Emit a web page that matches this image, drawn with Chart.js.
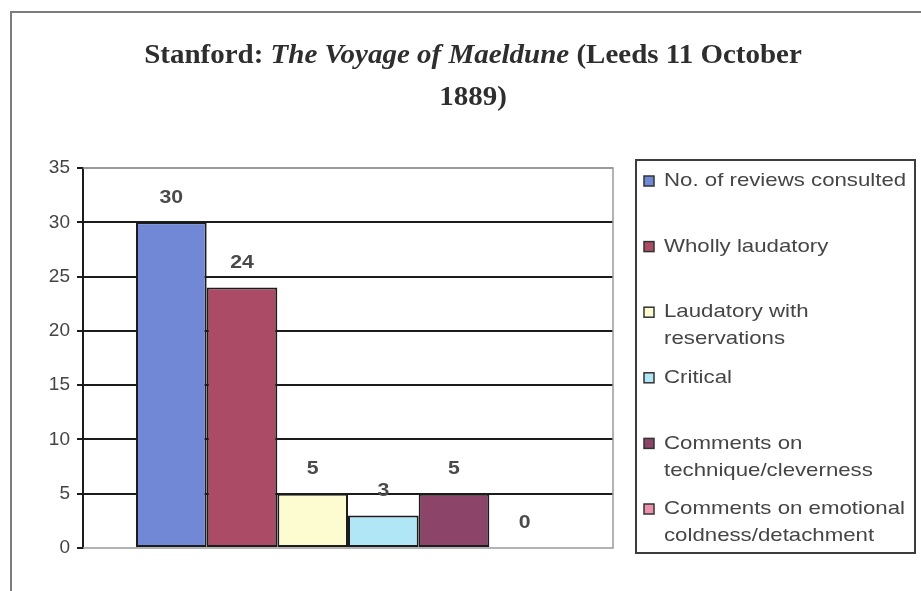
<!DOCTYPE html>
<html>
<head>
<meta charset="utf-8">
<script src="https://cdn.jsdelivr.net/npm/chart.js@4.4.1/dist/chart.umd.min.js"></script>
<style>
  html, body { margin: 0; padding: 0; background: #fff; }
  #wrap { position: relative; width: 921px; height: 591px; overflow: hidden; }
  #frame {
    position: absolute; left: 10px; top: 11px; width: 960px; height: 640px;
    border-top: 2px solid #7c7c7c; border-left: 2px solid #7c7c7c;
  }
  #chart { position: absolute; left: 0; top: 0; }
</style>
</head>
<body>
<div id="wrap">
  <div id="frame"></div>
  <canvas id="chart" width="921" height="591"></canvas>
</div>
<script>
// data
var categories = [""];
var seriesNames = [
  "No. of reviews consulted",
  "Wholly laudatory",
  "Laudatory with reservations",
  "Critical",
  "Comments on technique/cleverness",
  "Comments on emotional coldness/detachment"
];
var seriesValues = [30, 24, 5, 3, 5, 0];
var legendLines = [
  ["No. of reviews consulted"],
  ["Wholly laudatory"],
  ["Laudatory with", "reservations"],
  ["Critical"],
  ["Comments on", "technique/cleverness"],
  ["Comments on emotional", "coldness/detachment"]
];
var yTicks = [0, 5, 10, 15, 20, 25, 30, 35];
var titleLines = [
  [["Stanford: ", false], ["The Voyage of Maeldune", true], [" (Leeds 11 October", false]],
  [["1889)", false]]
];

var barColors = ["#7188d6", "#ac4b65", "#fdfcd0", "#b1e6f7", "#8c4568", "#ee8fae"];

var SANS = "'Liberation Sans', Arial, sans-serif";
var SERIF = "'Liberation Serif', 'Times New Roman', serif";

// grey frame round the plot (top/right/bottom), drawn over the grid, under the bars
var plotFrame = {
  id: "plotFrame",
  beforeDatasetsDraw: function (chart) {
    var a = chart.chartArea, ctx = chart.ctx;
    ctx.save();
    ctx.strokeStyle = "#9a9a9a";
    ctx.lineWidth = 1.5;
    ctx.beginPath();
    ctx.moveTo(a.left, a.top);
    ctx.lineTo(a.right, a.top);
    ctx.lineTo(a.right, a.bottom);
    ctx.lineTo(a.left, a.bottom);
    ctx.stroke();
    ctx.restore();
  }
};

// value labels above each bar
var valueLabels = {
  id: "valueLabels",
  afterDatasetsDraw: function (chart) {
    var ctx = chart.ctx;
    ctx.save();
    ctx.font = "bold 19px " + SANS;
    ctx.fillStyle = "#4a4a4a";
    ctx.textAlign = "center";
    ctx.textBaseline = "middle";
    chart.data.datasets.forEach(function (ds, i) {
      var el = chart.getDatasetMeta(i).data[0];
      ctx.save();
      ctx.translate(el.x, el.y - 25);
      ctx.scale(1.12, 1);
      ctx.fillText(String(ds.data[0]), 0, 0);
      ctx.restore();
    });
    ctx.restore();
  }
};

// mixed bold / bold-italic title
var mixedTitle = {
  id: "mixedTitle",
  afterDraw: function (chart) {
    var ctx = chart.ctx;
    var cx = 473, ys = [56, 98], sx = 1.035;
    ctx.save();
    ctx.fillStyle = "#2e2e2e";
    ctx.textBaseline = "middle";
    ctx.textAlign = "left";
    titleLines.forEach(function (parts, li) {
      var widths = parts.map(function (p) {
        ctx.font = (p[1] ? "italic " : "") + "bold 28px " + SERIF;
        return ctx.measureText(p[0]).width;
      });
      var total = widths.reduce(function (s, w) { return s + w; }, 0);
      ctx.save();
      ctx.translate(cx - total * sx / 2, ys[li]);
      ctx.scale(sx, 1);
      var x = 0;
      parts.forEach(function (p, k) {
        ctx.font = (p[1] ? "italic " : "") + "bold 28px " + SERIF;
        ctx.fillText(p[0], x, 0);
        x += widths[k];
      });
      ctx.restore();
    });
    ctx.restore();
  }
};

// boxed legend on the right with wrapped labels
var boxLegend = {
  id: "boxLegend",
  afterDraw: function (chart) {
    var ctx = chart.ctx;
    var left = 636, top = 160, w = 279, h = 393;
    ctx.save();
    ctx.strokeStyle = "#3c3c3c";
    ctx.lineWidth = 2;
    ctx.strokeRect(left, top, w, h);
    ctx.font = "19px " + SANS;
    ctx.textBaseline = "middle";
    ctx.textAlign = "left";
    chart.data.datasets.forEach(function (ds, i) {
      var y = top + 21 + i * 65.6;
      ctx.fillStyle = ds.backgroundColor;
      ctx.fillRect(644, y - 5, 10, 10);
      ctx.strokeStyle = "#333";
      ctx.lineWidth = 1.5;
      ctx.strokeRect(644, y - 5, 10, 10);
      ctx.fillStyle = "#454545";
      legendLines[i].forEach(function (line, j) {
        ctx.save();
        ctx.translate(664, y + j * 27);
        ctx.scale(1.17, 1);
        ctx.fillText(line, 0, 0);
        ctx.restore();
      });
    });
    ctx.restore();
  }
};

var datasets = seriesNames.map(function (name, i) {
  return {
    label: name,
    data: [seriesValues[i]],
    backgroundColor: barColors[i],
    borderColor: "#1c1c1c",
    borderWidth: 2,
    borderSkipped: false,
    categoryPercentage: 0.8,
    barPercentage: 1.0
  };
});

new Chart(document.getElementById("chart"), {
  type: "bar",
  data: { labels: categories, datasets: datasets },
  options: {
    responsive: false,
    animation: false,
    layout: { padding: { left: 0, top: 168, right: 308, bottom: 43 } },
    plugins: {
      legend: { display: false },
      title: { display: false },
      tooltip: { enabled: false }
    },
    scales: {
      x: { display: false },
      y: {
        min: yTicks[0],
        max: yTicks[yTicks.length - 1],
        afterFit: function (scale) { scale.width = 83; },
        afterBuildTicks: function (scale) {
          scale.ticks = yTicks.map(function (v) { return { value: v }; });
        },
        border: { color: "#1c1c1c", width: 2 },
        grid: {
          lineWidth: 2,
          tickLength: 6,
          tickColor: "#1c1c1c",
          color: function (c) {
            if (c.tick.value === 0) return "rgba(0,0,0,0)";
            if (c.tick.value === 35) return "#9a9a9a";
            return "#1c1c1c";
          }
        },
        ticks: {
          padding: 7,
          color: "#444",
          font: { family: SANS, size: 19 }
        }
      }
    }
  },
  plugins: [plotFrame, valueLabels, mixedTitle, boxLegend]
});
</script>
</body>
</html>
